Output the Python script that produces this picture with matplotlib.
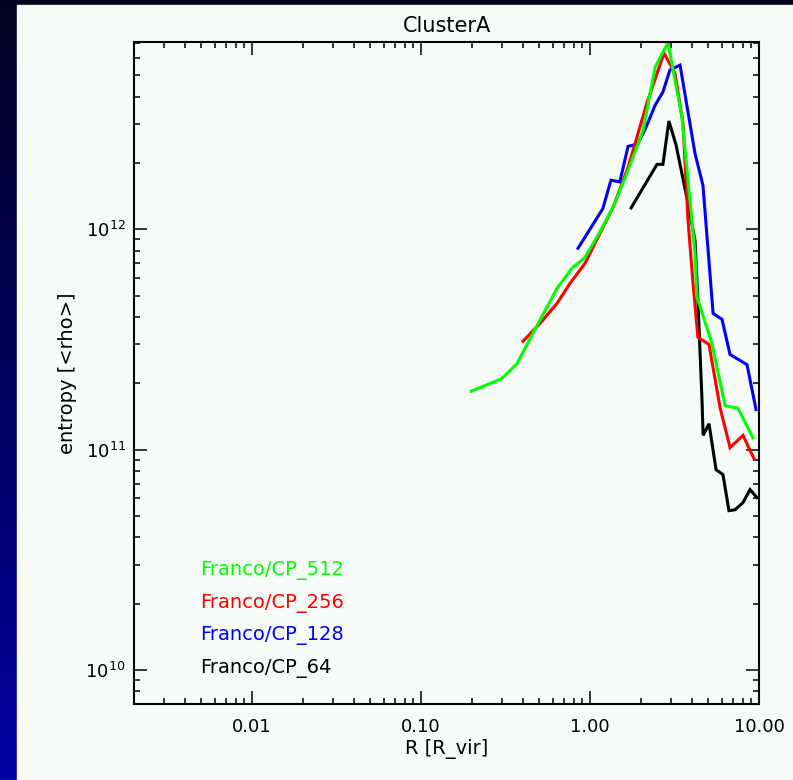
import matplotlib
matplotlib.use('Agg')
import matplotlib.pyplot as plt
import numpy as np
from matplotlib.patches import Rectangle
from matplotlib.ticker import LogLocator, FixedLocator, FixedFormatter, NullFormatter

plt.rcParams['font.family'] = 'DejaVu Sans'
plt.rcParams['font.size'] = 12

# ClusterA entropy profiles
r_512 = [0.198, 0.301, 0.370, 0.486, 0.638, 0.782, 0.934, 1.115, 1.37, 1.68, 2.06,
         2.43, 2.70, 2.90, 3.10, 3.50, 3.80, 4.18, 4.30, 5.27, 6.30, 7.51, 9.21]
s_512 = [1.84e11, 2.10e11, 2.46e11, 3.66e11, 5.39e11, 6.65e11, 7.46e11, 9.4e11, 1.26e12,
         1.85e12, 2.82e12, 5.45e12, 6.38e12, 7.0e12, 5.28e12, 3.23e12, 1.67e12, 7.78e11,
         4.91e11, 3.03e11, 1.58e11, 1.54e11, 1.13e11]

r_256 = [0.401, 0.506, 0.638, 0.761, 0.934, 1.115, 1.37, 1.68, 2.17, 2.74, 3.18, 3.55,
         3.80, 4.07, 4.35, 5.06, 5.88, 6.74, 8.04, 9.34]
s_256 = [3.1e11, 3.74e11, 4.61e11, 5.68e11, 7.0e11, 9.2e11, 1.26e12, 1.91e12, 3.74e12,
         6.3e12, 5.12e12, 3.03e12, 1.1e12, 5.68e11, 3.23e11, 3.0e11, 1.55e11, 1.02e11,
         1.16e11, 9.1e10]

r_128 = [0.849, 1.19, 1.33, 1.50, 1.68, 1.90, 2.11, 2.43, 2.70, 2.97, 3.41, 4.18, 4.66,
         5.35, 6.04, 6.74, 8.49, 9.60]
s_128 = [8.2e11, 1.24e12, 1.67e12, 1.64e12, 2.38e12, 2.43e12, 2.82e12, 3.66e12, 4.2e12,
         5.28e12, 5.56e12, 2.21e12, 1.58e12, 4.15e11, 3.9e11, 2.7e11, 2.43e11, 1.52e11]

r_64 = [1.75, 2.49, 2.70, 2.93, 3.23, 3.80, 4.18, 4.35, 4.60, 4.67, 5.06, 5.57, 6.12,
        6.64, 7.21, 8.04, 8.85, 9.73]
s_64 = [1.25e12, 1.97e12, 1.97e12, 3.1e12, 2.41e12, 1.31e12, 8.9e11, 4.75e11, 1.67e11,
        1.16e11, 1.31e11, 8.1e10, 7.7e10, 5.28e10, 5.33e10, 5.74e10, 6.58e10, 6.05e10]

labels = ['Franco/CP_512', 'Franco/CP_256', 'Franco/CP_128', 'Franco/CP_64']
colors = ['#00FF00', '#FF0000', '#0000FF', '#000000']

x_ticks = [0.01, 0.1, 1.0, 10.0]
x_ticklabels = ['0.01', '0.10', '1.00', '10.00']

fig = plt.figure(figsize=(7.93, 7.80), dpi=100)

# dark blue gradient backdrop + light panel
bg = fig.add_axes([0, 0, 1, 1])
grad = np.linspace(0, 1, 256).reshape(-1, 1)
top_c = np.array([0.0, 0.0, 0.12])
bot_c = np.array([0.0, 0.0, 0.64])
img = top_c + (bot_c - top_c) * grad[:, :, None]
bg.imshow(img, aspect='auto', extent=[0, 1, 0, 1], origin='upper')
bg.add_patch(Rectangle((17 / 793, 0), 1, 775 / 780, color='#F6FBF8', zorder=2))
bg.set_xlim(0, 1)
bg.set_ylim(0, 1)
bg.axis('off')

ax = fig.add_axes([134 / 793, 76 / 780, 625 / 793, 662 / 780])
ax.set_facecolor('none')

series = [(r_64, s_64, 3), (r_128, s_128, 2), (r_256, s_256, 1), (r_512, s_512, 0)]
for r, s, i in series:
    ax.plot(r, s, color=colors[i], linewidth=2.2, solid_joinstyle='miter')

ax.set_xscale('log')
ax.set_yscale('log')
ax.set_xlim(0.002, 10.0)
ax.set_ylim(10 ** 9.845, 10 ** 12.85)

ax.xaxis.set_major_locator(FixedLocator(x_ticks))
ax.xaxis.set_major_formatter(FixedFormatter(x_ticklabels))
ax.xaxis.set_minor_locator(LogLocator(base=10, subs=np.arange(2, 10)))
ax.xaxis.set_minor_formatter(NullFormatter())
ax.yaxis.set_major_locator(LogLocator(base=10))
ax.yaxis.set_minor_locator(LogLocator(base=10, subs=np.arange(2, 10)))
ax.yaxis.set_minor_formatter(NullFormatter())

ax.tick_params(which='both', direction='in', top=True, right=True, width=1.1, color='black')
ax.tick_params(which='major', length=9.5)
ax.tick_params(which='minor', length=4.5)
ax.tick_params(axis='x', which='major', pad=10, labelsize=13)
ax.tick_params(axis='y', which='major', pad=6, labelsize=13)
for sp in ax.spines.values():
    sp.set_linewidth(1.5)

ax.set_title('ClusterA', fontsize=15, pad=7)
ax.set_xlabel('R [R_vir]', fontsize=14, labelpad=2)
ax.set_ylabel('entropy [<rho>]', fontsize=14, labelpad=6)

leg_y = [0.201, 0.152, 0.103, 0.054]
for lab, c, yy in zip(labels, colors, leg_y):
    ax.text(0.106, yy, lab, color=c, fontsize=14, transform=ax.transAxes,
            ha='left', va='center')

fig.savefig('out.png', dpi=100)
